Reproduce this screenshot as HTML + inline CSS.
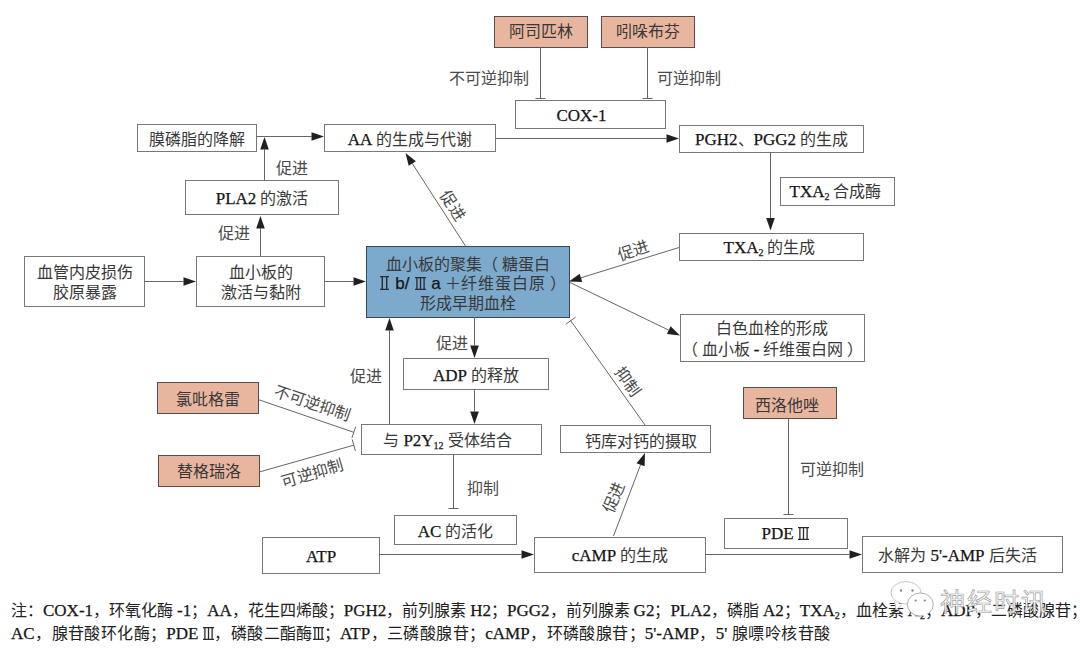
<!DOCTYPE html>
<html lang="zh-CN"><head><meta charset="utf-8"><style>
html,body{margin:0;padding:0;background:#fff;width:1080px;height:649px;overflow:hidden;}
body{position:relative;font-family:"Liberation Serif",serif;color:#333;}
.b{position:absolute;box-sizing:border-box;border:1px solid #787878;padding-top:2px;display:flex;align-items:center;justify-content:center;text-align:center;font-size:16px;line-height:19px;white-space:nowrap;background:#fff;color:#383838;}
.b sub{font-size:10px;vertical-align:-3px;line-height:0;}
.e{font-size:17px;color:#151515;-webkit-text-stroke:0.25px #151515;}
sub .e,.note sub .e{font-size:inherit;}
.l{position:absolute;box-sizing:content-box;font-size:16px;line-height:16px;height:16px;padding-top:4px;text-align:center;white-space:nowrap;color:#4a4a4a;transform-origin:50% 50%;}
svg{position:absolute;left:0;top:0;}
.b svg.rn,.note svg.rn{position:static;display:inline-block;vertical-align:-1px;}
.s{font-family:"Liberation Sans",sans-serif;font-size:17px;}
.note .e{font-size:17px;}
.note{position:absolute;left:11px;font-size:16px;line-height:16px;white-space:nowrap;color:#222;text-align:justify;text-align-last:justify;}
.note sub{font-size:10px;vertical-align:-3px;line-height:0;}
</style></head><body>

<div class="b" style="left:494px;top:16px;width:94px;height:32px;line-height:19px;background:#e8b69e;border-color:#5a4c48;"><span style="position:relative;top:-1.5px">阿司匹林</span></div>
<div class="b" style="left:601px;top:16px;width:94px;height:32px;line-height:19px;background:#e8b69e;border-color:#5a4c48;"><span style="position:relative;top:-2px">吲哚布芬</span></div>
<div class="b" style="left:515px;top:100px;width:151px;height:29px;line-height:19px;padding-right:18px;"><span><span class="e">COX-1</span></span></div>
<div class="b" style="left:137px;top:124px;width:120px;height:28px;line-height:19px;"><span>膜磷脂的降解</span></div>
<div class="b" style="left:324px;top:124px;width:172px;height:28px;line-height:19px;"><span><span class="e">AA</span> 的生成与代谢</span></div>
<div class="b" style="left:679px;top:125px;width:185px;height:28px;line-height:19px;"><span style="position:relative;top:-1px"><span class="e">PGH2</span>、<span class="e">PGG2</span> 的生成</span></div>
<div class="b" style="left:185px;top:180px;width:154px;height:35px;line-height:19px;"><span><span class="e">PLA2</span> 的激活</span></div>
<div class="b" style="left:780px;top:177px;width:115px;height:29px;line-height:19px;padding-right:4px;"><span style="position:relative;top:-1px"><span class="e">TXA</span><sub><span class="e">2</span></sub> 合成酶</span></div>
<div class="b" style="left:679px;top:233px;width:185px;height:28px;line-height:19px;padding-right:4px;"><span style="position:relative;top:-0.5px"><span class="e">TXA</span><sub><span class="e">2</span></sub> 的生成</span></div>
<div class="b" style="left:24px;top:256px;width:121px;height:51px;line-height:20px;"><span>血管内皮损伤<br>胶原暴露</span></div>
<div class="b" style="left:196px;top:256px;width:129px;height:51px;line-height:20px;"><span>血小板的<br>激活与黏附</span></div>
<div class="b" style="left:366px;top:246px;width:204px;height:72px;line-height:19.5px;background:#7caacc;border-color:#3a4a58;padding-top:4px;"><span>血小板的聚集（ 糖蛋白<br><span style="position:relative;left:5px"><svg class="rn" style="margin-right:2px" width="9" height="14" viewBox="0 0 9 14"><path d="M0 0.6H9M0 13.4H9M2.3 0.6V13.4M6.7 0.6V13.4" stroke="#2a2a2a" stroke-width="1.4" fill="none"/></svg> <span class="s" style="margin-right:2px"><span class="e">b/</span></span> <svg class="rn" style="margin-right:1px" width="11" height="13" viewBox="0 0 11 13"><path d="M0 0.6H11M0 12.4H11M1.9 0.6V12.4M5.5 0.6V12.4M9.1 0.6V12.4" stroke="#2a2a2a" stroke-width="1.3" fill="none"/></svg> <span class="s"><span class="e">a</span></span> ＋<span style="letter-spacing:1px">纤维蛋白原</span> ）</span><br>形成早期血栓</span></div>
<div class="b" style="left:680px;top:314px;width:185px;height:48px;line-height:21px;"><span>白色血栓的形成<br>（ 血小板 <span class="e">-</span> 纤维蛋白网 ）</span></div>
<div class="b" style="left:403px;top:358px;width:146px;height:32px;line-height:19px;"><span><span class="e">ADP</span> 的释放</span></div>
<div class="b" style="left:157px;top:382px;width:102px;height:32px;line-height:19px;background:#e8b69e;border-color:#5a4c48;"><span>氯吡格雷</span></div>
<div class="b" style="left:743px;top:387px;width:94px;height:32px;line-height:19px;background:#e8b69e;border-color:#5a4c48;padding-right:6px;"><span style="position:relative;top:1px">西洛他唑</span></div>
<div class="b" style="left:361px;top:424px;width:181px;height:31px;line-height:19px;padding-right:8px;"><span style="position:relative;top:-0.5px">与 <span class="e">P2Y</span><sub><span class="e">12</span></sub> 受体结合</span></div>
<div class="b" style="left:560px;top:425px;width:151px;height:28px;line-height:19px;padding-left:10px;"><span style="position:relative;top:1px">钙库对钙的摄取</span></div>
<div class="b" style="left:158px;top:455px;width:102px;height:32px;line-height:19px;background:#e8b69e;border-color:#5a4c48;"><span style="position:relative;top:-1px">替格瑞洛</span></div>
<div class="b" style="left:394px;top:515px;width:123px;height:30px;line-height:19px;"><span><span class="e">AC</span> 的活化</span></div>
<div class="b" style="left:724px;top:518px;width:124px;height:31px;line-height:19px;padding-right:2px;"><span style="position:relative;top:-1.5px"><span class="e">PDE</span> <svg class="rn" width="11" height="13" viewBox="0 0 11 13"><path d="M0 0.6H11M0 12.4H11M1.9 0.6V12.4M5.5 0.6V12.4M9.1 0.6V12.4" stroke="#2a2a2a" stroke-width="1.3" fill="none"/></svg></span></div>
<div class="b" style="left:262px;top:537px;width:118px;height:37px;line-height:19px;"><span><span class="e">ATP</span></span></div>
<div class="b" style="left:534px;top:537px;width:172px;height:36px;line-height:19px;"><span style="position:relative;top:-0.5px"><span class="e">cAMP</span> 的生成</span></div>
<div class="b" style="left:862px;top:536px;width:201px;height:37px;line-height:19px;padding-right:10px;"><span>水解为 <span class="e">5'-AMP</span> 后失活</span></div>
<svg width="1080" height="649" viewBox="0 0 1080 649"><polyline points="256.0,136.5 311.5,136.5" fill="none" stroke="#666" stroke-width="1"/><polygon points="324.0,136.5 311.5,140.8 311.5,132.2" fill="#231f20"/><polyline points="264.5,180.0 264.5,149.5" fill="none" stroke="#666" stroke-width="1"/><polygon points="264.5,137.0 268.8,149.5 260.2,149.5" fill="#231f20"/><polyline points="260.5,256.0 260.5,228.5" fill="none" stroke="#666" stroke-width="1"/><polygon points="260.5,216.0 264.8,228.5 256.2,228.5" fill="#231f20"/><polyline points="144.0,281.5 183.5,281.5" fill="none" stroke="#666" stroke-width="1"/><polygon points="196.0,281.5 183.5,285.8 183.5,277.2" fill="#231f20"/><polyline points="324.0,281.5 353.5,281.5" fill="none" stroke="#666" stroke-width="1"/><polygon points="366.0,281.5 353.5,285.8 353.5,277.2" fill="#231f20"/><polyline points="465.5,246.0 412.3,163.5" fill="none" stroke="#666" stroke-width="1"/><polygon points="405.5,153.0 415.9,161.2 408.7,165.8" fill="#231f20"/><polyline points="495.0,138.5 666.5,138.5" fill="none" stroke="#666" stroke-width="1"/><polygon points="679.0,138.5 666.5,142.8 666.5,134.2" fill="#231f20"/><polyline points="770.5,152.0 770.5,218.0" fill="none" stroke="#666" stroke-width="1"/><polygon points="770.5,230.5 766.2,218.0 774.8,218.0" fill="#231f20"/><polyline points="679.0,247.5 580.9,277.8" fill="none" stroke="#666" stroke-width="1"/><polygon points="569.0,281.5 579.7,273.7 582.2,281.9" fill="#231f20"/><polyline points="570.0,282.5 668.7,330.1" fill="none" stroke="#666" stroke-width="1"/><polygon points="680.0,335.5 666.9,333.9 670.6,326.2" fill="#231f20"/><polyline points="474.5,317.0 474.5,345.5" fill="none" stroke="#666" stroke-width="1"/><polygon points="474.5,358.0 470.2,345.5 478.8,345.5" fill="#231f20"/><polyline points="474.5,389.0 474.5,411.5" fill="none" stroke="#666" stroke-width="1"/><polygon points="474.5,424.0 470.2,411.5 478.8,411.5" fill="#231f20"/><polyline points="389.5,424.0 389.5,330.5" fill="none" stroke="#666" stroke-width="1"/><polygon points="389.5,318.0 393.8,330.5 385.2,330.5" fill="#231f20"/><polyline points="540.5,47.0 540.5,98.5" fill="none" stroke="#666" stroke-width="1"/><line x1="535.5" y1="98.5" x2="545.5" y2="98.5" stroke="#666" stroke-width="1"/><polyline points="647.5,47.0 647.5,98.5" fill="none" stroke="#666" stroke-width="1"/><line x1="642.5" y1="98.5" x2="652.5" y2="98.5" stroke="#666" stroke-width="1"/><polyline points="258.7,399.7 353.8,432.3" fill="none" stroke="#666" stroke-width="1"/><line x1="351.9" y1="438.0" x2="355.7" y2="426.6" stroke="#666" stroke-width="1"/><polyline points="259.6,471.9 353.8,445.2" fill="none" stroke="#666" stroke-width="1"/><line x1="355.4" y1="451.0" x2="352.2" y2="439.4" stroke="#666" stroke-width="1"/><polyline points="453.5,454.0 453.5,508.5" fill="none" stroke="#666" stroke-width="1"/><line x1="448.5" y1="508.5" x2="458.5" y2="508.5" stroke="#666" stroke-width="1"/><polyline points="645.0,425.0 570.7,320.7" fill="none" stroke="#666" stroke-width="1"/><line x1="575.6" y1="317.2" x2="565.8" y2="324.2" stroke="#666" stroke-width="1"/><polyline points="613.5,536.0 640.6,464.7" fill="none" stroke="#666" stroke-width="1"/><polygon points="645.0,453.0 644.6,466.2 636.5,463.2" fill="#231f20"/><polyline points="788.5,419.0 788.5,514.5" fill="none" stroke="#666" stroke-width="1"/><line x1="783.5" y1="514.5" x2="793.5" y2="514.5" stroke="#666" stroke-width="1"/><polyline points="379.0,554.5 521.5,554.5" fill="none" stroke="#666" stroke-width="1"/><polygon points="534.0,554.5 521.5,558.8 521.5,550.2" fill="#231f20"/><polyline points="705.0,554.5 849.5,554.5" fill="none" stroke="#666" stroke-width="1"/><polygon points="862.0,554.5 849.5,558.8 849.5,550.2" fill="#231f20"/></svg>
<div class="l" style="left:449.0px;top:67.0px;width:80px">不可逆抑制</div>
<div class="l" style="left:657.0px;top:67.0px;width:64px">可逆抑制</div>
<div class="l" style="left:276.0px;top:157.0px;width:32px">促进</div>
<div class="l" style="left:218.0px;top:221.5px;width:32px">促进</div>
<div class="l" style="left:438.0px;top:194.5px;width:32px;transform:rotate(57deg)">促进</div>
<div class="l" style="left:616.5px;top:239.2px;width:32px;transform:rotate(-19deg)">促进</div>
<div class="l" style="left:436.0px;top:331.5px;width:32px">促进</div>
<div class="l" style="left:349.5px;top:364.5px;width:32px">促进</div>
<div class="l" style="left:272.7px;top:392.0px;width:80px;transform:rotate(19deg)">不可逆抑制</div>
<div class="l" style="left:280.0px;top:461.8px;width:64px;transform:rotate(-16deg)">可逆抑制</div>
<div class="l" style="left:612.5px;top:370.5px;width:32px;transform:rotate(54deg)">抑制</div>
<div class="l" style="left:467.0px;top:477.0px;width:32px">抑制</div>
<div class="l" style="left:597.3px;top:487.0px;width:32px;transform:rotate(-68deg)">促进</div>
<div class="l" style="left:799.6px;top:457.6px;width:64px">可逆抑制</div>
<div class="note" style="top:603px;width:1057px">注：<span class="e">COX-1</span>，环氧化酶 <span class="e">-1</span>；<span class="e">AA</span>，花生四烯酸；<span class="e">PGH2</span>，前列腺素 <span class="e">H2</span>；<span class="e">PGG2</span>，前列腺素 <span class="e">G2</span>；<span class="e">PLA2</span>，磷脂 <span class="e">A2</span>；<span class="e">TXA</span><sub><span class="e">2</span></sub>，血栓素 <span class="e">A</span><sub><span class="e">2</span></sub>；<span class="e">ADP</span>，二磷酸腺苷；</div>
<div class="note" style="top:626px;width:819px"><span class="e">AC</span>，腺苷酸环化酶；<span class="e">PDE</span> <svg class="rn" width="11" height="13" viewBox="0 0 11 13"><path d="M0 0.6H11M0 12.4H11M1.9 0.6V12.4M5.5 0.6V12.4M9.1 0.6V12.4" stroke="#2a2a2a" stroke-width="1.3" fill="none"/></svg>，磷酸二酯酶<svg class="rn" width="11" height="13" viewBox="0 0 11 13"><path d="M0 0.6H11M0 12.4H11M1.9 0.6V12.4M5.5 0.6V12.4M9.1 0.6V12.4" stroke="#2a2a2a" stroke-width="1.3" fill="none"/></svg>；<span class="e">ATP</span>，三磷酸腺苷；<span class="e">cAMP</span>，环磷酸腺苷；<span class="e">5'-AMP</span>，<span class="e">5'</span> 腺嘌呤核苷酸</div>
<svg width="1080" height="649" style="position:absolute;left:0;top:0"><g fill="#fff" stroke="#b5b5b5" stroke-width="0.8"><ellipse cx="906" cy="592.8" rx="15" ry="11.2"/><path d="M894 600 l2 9.5 6 -4z" stroke="none"/><path d="M894.5 601 l1.5 8.5 5 -3.5" fill="none"/><ellipse cx="920.3" cy="604.5" rx="13" ry="11.5" stroke="#999"/><path d="M926 613 l4 4 -7 -1z" stroke="none"/></g><g fill="#888"><circle cx="901" cy="590.5" r="1.2"/><circle cx="912.5" cy="590.5" r="1.2"/><circle cx="915.7" cy="600.5" r="1.1"/><circle cx="924.8" cy="600.5" r="1.1"/></g><text x="940" y="610.5" font-family="Liberation Sans, sans-serif" font-size="25" fill="#fff" stroke="#a0a0a0" stroke-width="0.7" textLength="106">神经时讯</text></svg>
</body></html>
